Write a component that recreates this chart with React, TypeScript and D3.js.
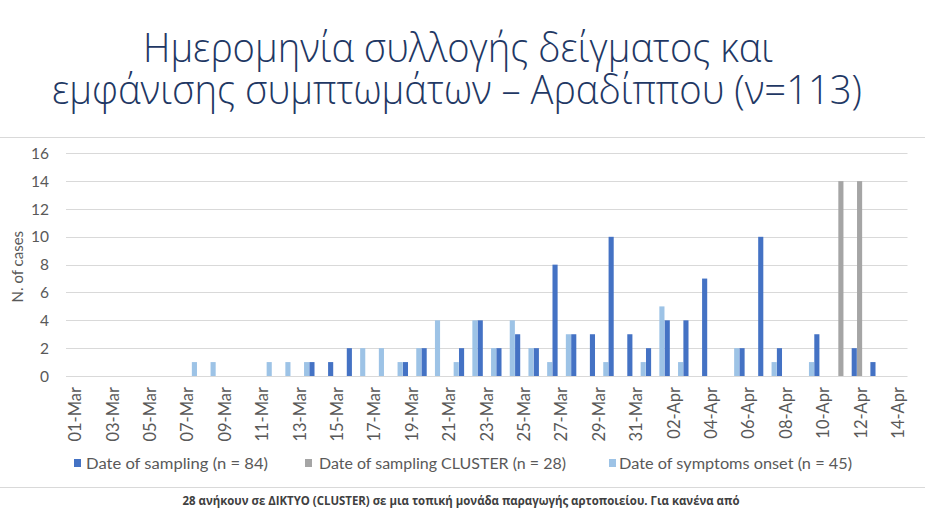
import React from "react";
import * as d3 from "d3";

const days = [
  "01-Mar","02-Mar","03-Mar","04-Mar","05-Mar","06-Mar","07-Mar","08-Mar","09-Mar","10-Mar",
  "11-Mar","12-Mar","13-Mar","14-Mar","15-Mar","16-Mar","17-Mar","18-Mar","19-Mar","20-Mar",
  "21-Mar","22-Mar","23-Mar","24-Mar","25-Mar","26-Mar","27-Mar","28-Mar","29-Mar","30-Mar",
  "31-Mar","01-Apr","02-Apr","03-Apr","04-Apr","05-Apr","06-Apr","07-Apr","08-Apr","09-Apr",
  "10-Apr","11-Apr","12-Apr","13-Apr","14-Apr",
];

const sampling = [
  0,0,0,0,0,0,0,0,0,0,
  0,0,0,1,1,2,0,0,1,2,
  0,2,4,2,3,2,8,3,3,10,
  3,2,4,4,7,0,2,10,2,0,
  3,0,2,1,0,
];
const cluster = [
  0,0,0,0,0,0,0,0,0,0,
  0,0,0,0,0,0,0,0,0,0,
  0,0,0,0,0,0,0,0,0,0,
  0,0,0,0,0,0,0,0,0,0,
  0,14,14,0,0,
];
const onset = [
  0,0,0,0,0,0,0,1,1,0,
  0,1,1,1,0,0,2,2,1,2,
  4,1,4,2,4,2,1,3,0,1,
  0,1,5,1,0,0,2,0,1,0,
  1,0,0,0,0,
];

const yTicks = [0, 2, 4, 6, 8, 10, 12, 14, 16];

const seriesKeys = ["onset", "sampling", "cluster"];
const seriesColors: Record<string, string> = {
  sampling: "#4472C4",
  cluster: "#A5A5A5",
  onset: "#9DC3E6",
};
const seriesValues: Record<string, number[]> = { sampling, cluster, onset };

const legendItems = [
  { key: "sampling", label: "Date of sampling (n = 84)", sx: 74, tx: 86, tw: 182 },
  { key: "cluster", label: "Date of sampling CLUSTER (n = 28)", sx: 305, tx: 319, tw: 247 },
  { key: "onset", label: "Date of symptoms onset (n = 45)", sx: 609, tx: 619, tw: 233 },
];

const titleLine1 = "Ημερομηνία συλλογής δείγματος και";
const titleLine2 = "εμφάνισης συμπτωμάτων – Αραδίππου (ν=113)";
const footer = "28 ανήκουν σε ΔΙΚΤΥΟ (CLUSTER) σε μια τοπική μονάδα παραγωγής αρτοποιείου. Για κανένα από";

export default function App() {
  const W = 925, H = 513;
  const left = 66, right = 907.5, top = 153.3, bottom = 376;
  const x = d3.scaleBand<string>().domain(days).range([left, right]).paddingInner(0);
  const inner = d3.scaleBand<string>().domain(seriesKeys).range([-14.4, 1.4]).paddingInner(0.04);
  const y = d3.scaleLinear().domain([0, 16]).range([bottom, top]);
  const font = "Lato, 'Open Sans', sans-serif";
  const grey = "#595959";

  return (
    <div style={{ position: "absolute", left: 0, top: 0 }}>
      <svg width={W} height={H} style={{ display: "block", background: "#fff" }}>
        <rect x={0} y={0} width={W} height={H} fill="#fff" />
        <text x={458} y={62} textAnchor="middle" fill="#1F3864" fontSize={40} fontWeight={300}
          fontFamily="'Open Sans', 'Noto Sans', sans-serif" textLength={630} lengthAdjust="spacingAndGlyphs">
          {titleLine1}
        </text>
        <text x={457} y={104} textAnchor="middle" fill="#1F3864" fontSize={40} fontWeight={300}
          fontFamily="'Open Sans', 'Noto Sans', sans-serif" textLength={810} lengthAdjust="spacingAndGlyphs">
          {titleLine2}
        </text>
        <line x1={0} x2={W} y1={137.5} y2={137.5} stroke="#d9d9d9" strokeWidth={1} />

        {yTicks.map((t) => (
          <g key={t}>
            <line x1={left} x2={right} y1={Math.round(y(t)) + 0.5} y2={Math.round(y(t)) + 0.5} stroke="#d9d9d9" strokeWidth={1} />
            <text x={49} y={y(t)} dy="0.36em" textAnchor="end" fill={grey} fontSize={15.5} fontFamily={font}>
              {t}
            </text>
          </g>
        ))}
        <text transform={`translate(18,${(top + bottom) / 2 + 2}) rotate(-90)`} dy="0.35em" textAnchor="middle"
          fill={grey} fontSize={15} fontFamily={font}>
          N. of cases
        </text>

        {seriesKeys.map((k) =>
          days.map((d, i) => {
            const v = seriesValues[k][i];
            if (!v) return null;
            const cx = (x(d) as number) + x.bandwidth() / 2 + (inner(k) as number);
            return (
              <rect key={k + d} x={cx} y={y(v)} width={inner.bandwidth()} height={y(0) - y(v)} fill={seriesColors[k]} />
            );
          })
        )}

        {days.map((d, i) =>
          i % 2 === 0 ? (
            <text key={d} transform={`translate(${(x(d) as number) + x.bandwidth() / 2},387) rotate(-90)`}
              dy="0.35em" textAnchor="end" fill={grey} fontSize={16.5} fontFamily={font}>
              {d}
            </text>
          ) : null
        )}

        {legendItems.map((it) => (
          <g key={it.key}>
            <rect x={it.sx} y={459} width={7} height={8} fill={seriesColors[it.key]} />
            <text x={it.tx} y={463} dy="0.36em" fill={grey} fontSize={15.5} fontFamily={font}
              textLength={it.tw} lengthAdjust="spacingAndGlyphs">
              {it.label}
            </text>
          </g>
        ))}

        <line x1={0} x2={W} y1={487.5} y2={487.5} stroke="#d9d9d9" strokeWidth={1} />
        <text x={461} y={505} textAnchor="middle" fill="#404040" fontSize={13} fontWeight={700}
          fontFamily="'Open Sans', 'Noto Sans', sans-serif" textLength={557} lengthAdjust="spacingAndGlyphs">
          {footer}
        </text>
      </svg>
    </div>
  );
}
